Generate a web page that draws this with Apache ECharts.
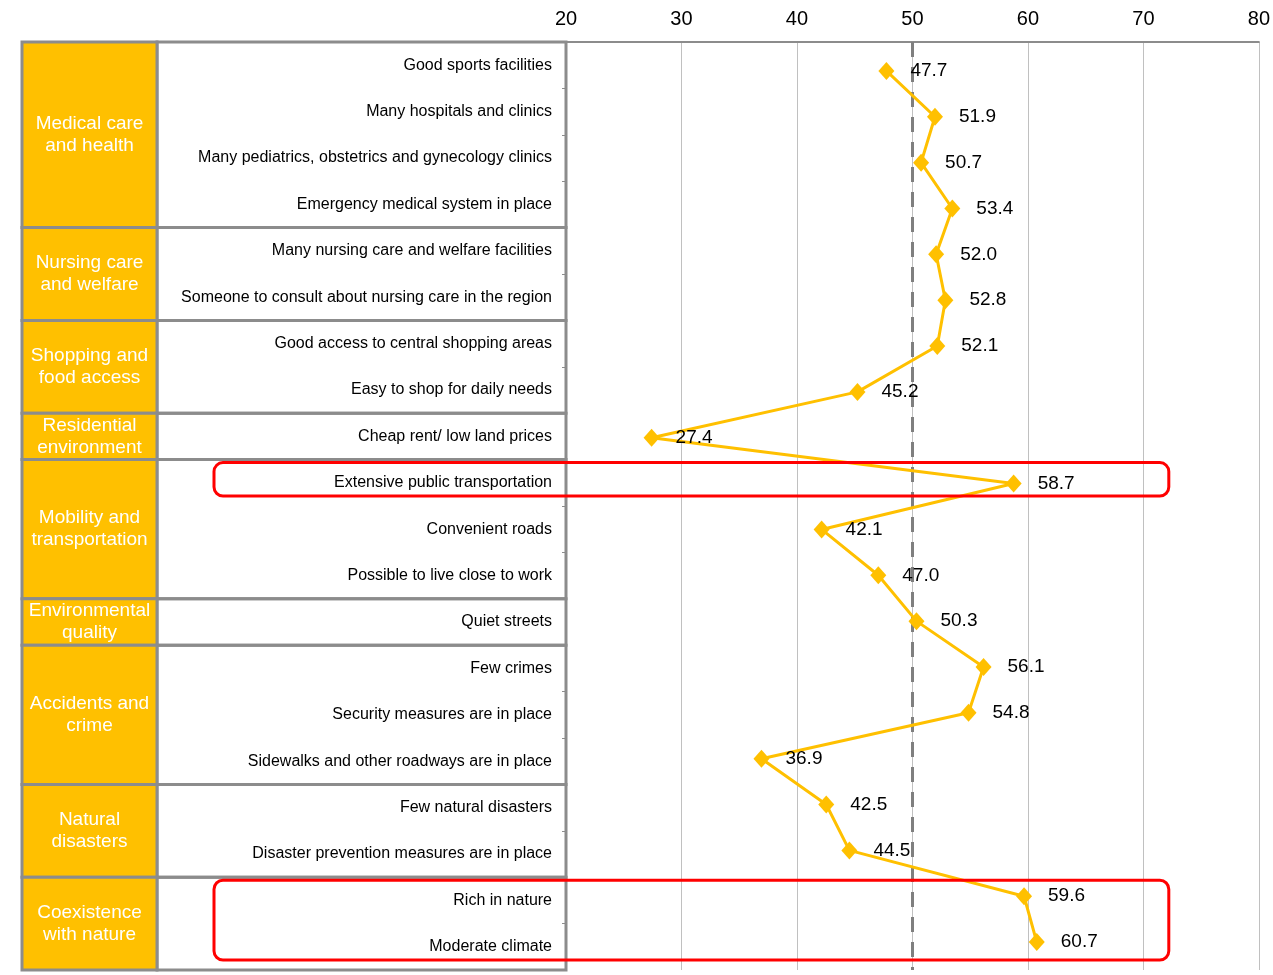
<!DOCTYPE html>
<html>
<head>
<meta charset="utf-8">
<script src="https://cdn.jsdelivr.net/npm/echarts@6/dist/echarts.min.js"></script>
<style>
html,body{margin:0;padding:0;background:#fff;}
#chart{width:1273px;height:975px;}
</style>
</head>
<body>
<div id="chart"></div>
<script>
var categories = [
  "Good sports facilities",
  "Many hospitals and clinics",
  "Many pediatrics, obstetrics and gynecology clinics",
  "Emergency medical system in place",
  "Many nursing care and welfare facilities",
  "Someone to consult about nursing care in the region",
  "Good access to central shopping areas",
  "Easy to shop for daily needs",
  "Cheap rent/ low land prices",
  "Extensive public transportation",
  "Convenient roads",
  "Possible to live close to work",
  "Quiet streets",
  "Few crimes",
  "Security measures are in place",
  "Sidewalks and other roadways are in place",
  "Few natural disasters",
  "Disaster prevention measures are in place",
  "Rich in nature",
  "Moderate climate"
];
var values = [47.7, 51.9, 50.7, 53.4, 52.0, 52.8, 52.1, 45.2, 27.4, 58.7, 42.1, 47.0, 50.3, 56.1, 54.8, 36.9, 42.5, 44.5, 59.6, 60.7];
var groupNames = [
  "Medical care\nand health",
  "Nursing care\nand welfare",
  "Shopping and\nfood access",
  "Residential\nenvironment",
  "Mobility and\ntransportation",
  "Environmental\nquality",
  "Accidents and\ncrime",
  "Natural\ndisasters",
  "Coexistence\nwith nature"
];
var groupSizes = [4, 2, 2, 1, 3, 1, 3, 2, 2];
var xTicks = [20, 30, 40, 50, 60, 70, 80];
var referenceValue = 50;
var highlighted = [["Extensive public transportation"], ["Rich in nature", "Moderate climate"]];

var FONT = "'Liberation Sans', Arial, sans-serif";
var YELLOW = '#FFC000';
var BORDER = '#8C8C8C';

// build group ranges from sizes
var groupData = [];
var idx = 0;
for (var g = 0; g < groupSizes.length; g++) {
  groupData.push([idx, idx + groupSizes[g] - 1, g]);
  idx += groupSizes[g];
}
var highlightData = highlighted.map(function (list) {
  var ids = list.map(function (c) { return categories.indexOf(c); });
  return [Math.min.apply(null, ids), Math.max.apply(null, ids)];
});

var chart = echarts.init(document.getElementById('chart'), null, {renderer: 'canvas'});
var xMin = xTicks[0], xMax = xTicks[xTicks.length - 1];

var option = {
  backgroundColor: '#fff',
  animation: false,
  textStyle: {fontFamily: FONT},
  grid: [
    {left: 566, top: 42, width: 694, height: 928},
    {left: 566, top: 48, width: 694, height: 917}
  ],
  xAxis: [
    {
      gridIndex: 0, type: 'value', position: 'top', min: xMin, max: xMax, interval: 10,
      axisLine: {show: true, lineStyle: {color: BORDER, width: 2}},
      axisTick: {show: false},
      axisLabel: {color: '#000', fontSize: 20, margin: 13, fontFamily: FONT},
      splitLine: {show: true, lineStyle: {color: '#C0C0C0', width: 1}}
    },
    {
      gridIndex: 1, type: 'value', min: xMin, max: xMax, show: false,
      splitLine: {show: false}
    }
  ],
  yAxis: [
    {
      gridIndex: 0, type: 'category', inverse: true, data: categories,
      axisLine: {show: true, lineStyle: {color: BORDER, width: 2}},
      axisTick: {show: true, length: 4, lineStyle: {color: BORDER, width: 1}},
      axisLabel: {color: '#000', fontSize: 16, margin: 14, fontFamily: FONT, interval: 0},
      splitLine: {show: false}
    },
    {
      gridIndex: 1, type: 'category', inverse: true, data: categories, show: false
    }
  ],
  series: [
    {
      type: 'custom',
      xAxisIndex: 0, yAxisIndex: 0,
      clip: false,
      silent: true,
      z: 1,
      data: groupData,
      renderItem: function (params, api) {
        var s = api.value(0), e = api.value(1), gi = api.value(2);
        var band = api.size([0, 1])[1];
        var y0 = api.coord([xMin, s])[1] - band / 2;
        var y1 = api.coord([xMin, e])[1] + band / 2;
        var cs = params.coordSys;
        var right = cs.x;
        var panelLeft = right - 544;
        var boxRight = panelLeft + 135;
        return {
          type: 'group',
          children: [
            {type: 'rect', shape: {x: boxRight, y: y0, width: right - boxRight, height: y1 - y0},
              style: {fill: 'none', stroke: BORDER, lineWidth: 3}},
            {type: 'rect', shape: {x: panelLeft, y: y0, width: boxRight - panelLeft, height: y1 - y0},
              style: {fill: YELLOW, stroke: BORDER, lineWidth: 3}},
            {type: 'text', x: (panelLeft + boxRight) / 2, y: (y0 + y1) / 2,
              style: {text: groupNames[gi], fill: '#fff', font: '19px ' + FONT,
                align: 'center', verticalAlign: 'middle', lineHeight: 22}}
          ]
        };
      }
    },
    {
      type: 'line',
      xAxisIndex: 0, yAxisIndex: 0,
      data: [],
      silent: true,
      markLine: {
        silent: true,
        symbol: 'none',
        label: {show: false},
        lineStyle: {color: '#7F7F7F', width: 3, type: [15, 10]},
        data: [{xAxis: referenceValue}]
      }
    },
    {
      type: 'line',
      xAxisIndex: 1, yAxisIndex: 1,
      data: values.map(function (v, i) { return [v, i]; }),
      symbol: 'diamond',
      symbolSize: [16, 18],
      lineStyle: {color: YELLOW, width: 3},
      itemStyle: {color: YELLOW},
      z: 5,
      label: {
        show: true, position: 'right', distance: 16, color: '#000', fontSize: 19, fontFamily: FONT,
        formatter: function (p) { return p.value[0].toFixed(1); }
      }
    },
    {
      type: 'custom',
      xAxisIndex: 0, yAxisIndex: 0,
      clip: false,
      silent: true,
      z: 10,
      data: highlightData,
      renderItem: function (params, api) {
        var s = api.value(0), e = api.value(1);
        var band = api.size([0, 1])[1];
        var y0 = api.coord([xMin, s])[1] - band / 2 + 3;
        var y1 = api.coord([xMin, e])[1] + band / 2 - 10;
        var cs = params.coordSys;
        var x0 = cs.x - 352;
        var x1 = api.coord([72.2, s])[0];
        return {
          type: 'rect',
          shape: {x: x0, y: y0, width: x1 - x0, height: y1 - y0, r: 9},
          style: {fill: 'none', stroke: '#FF0000', lineWidth: 3}
        };
      }
    }
  ]
};
chart.setOption(option);
</script>
</body>
</html>
